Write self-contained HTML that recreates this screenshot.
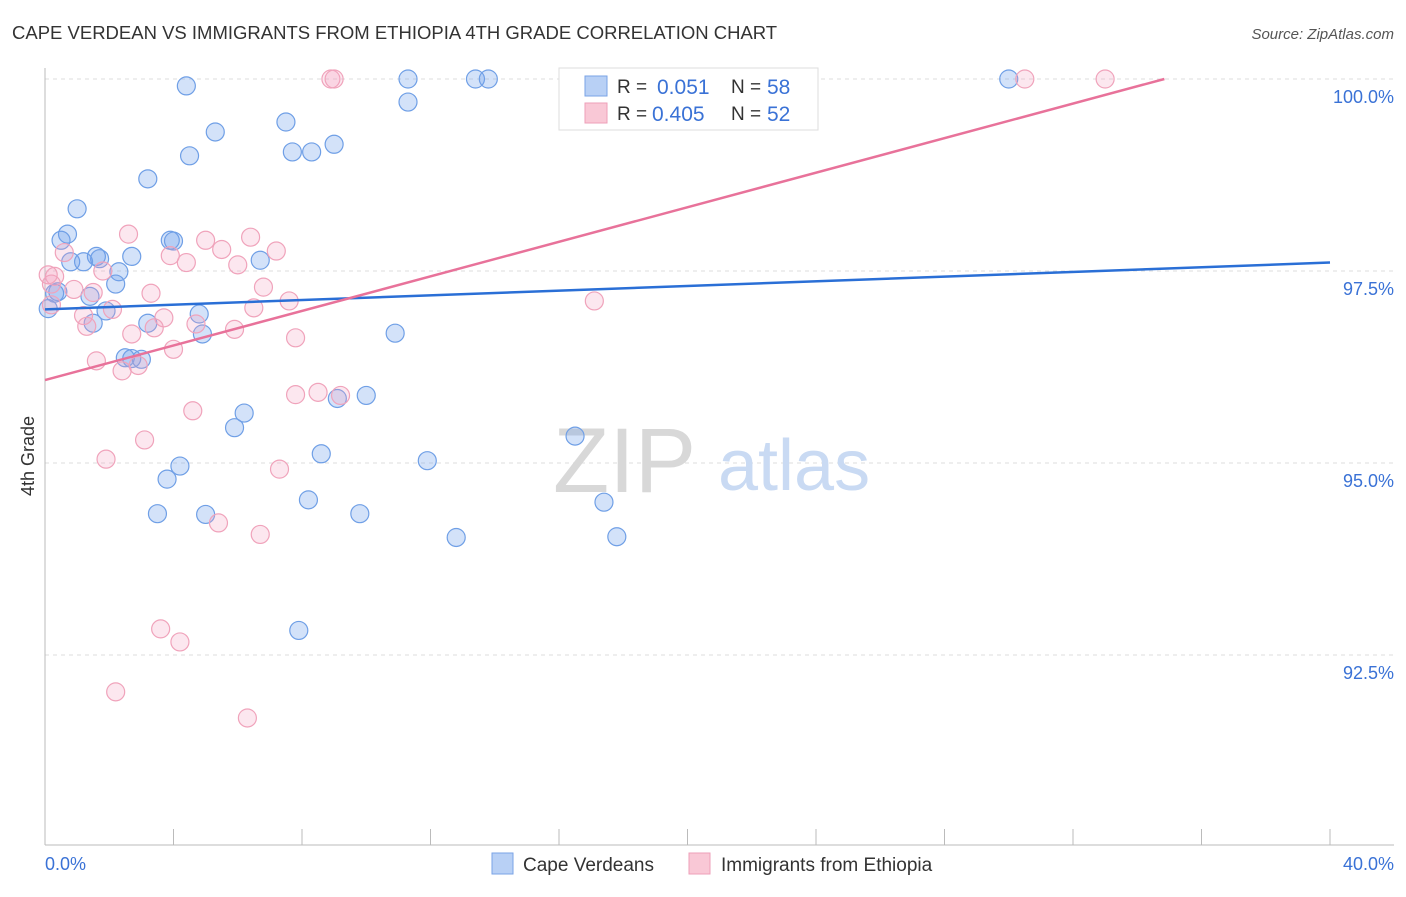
<!DOCTYPE html>
<html><head><meta charset="utf-8"><style>
body{margin:0;background:#fff;font-family:"Liberation Sans",sans-serif}
svg text{font-family:"Liberation Sans",sans-serif}
</style></head><body>
<svg width="1406" height="892" viewBox="0 0 1406 892">
<text x="12" y="39" font-size="18.5" fill="#333">CAPE VERDEAN VS IMMIGRANTS FROM ETHIOPIA 4TH GRADE CORRELATION CHART</text>
<text x="1394" y="39" font-size="15" fill="#555" text-anchor="end" font-style="italic">Source: ZipAtlas.com</text>
<g id="grid"></g>
<g><text x="553" y="492" font-size="92" fill="#d8d8d8" font-family="Liberation Serif,serif">ZIP</text><text x="718" y="490" font-size="72" fill="#c9daf3">atlas</text></g>
<g id="pts"></g>
<g id="lines"></g>
<text x="34" y="456" font-size="18" fill="#333" transform="rotate(-90 34 456)" text-anchor="middle">4th Grade</text>
<text x="45" y="870" font-size="18" fill="#3a72d6">0.0%</text>
<text x="1394" y="870" font-size="18" fill="#3a72d6" text-anchor="end">40.0%</text>
<g>
<rect x="559" y="68" width="259" height="62" fill="#fff" stroke="#ddd"/>
<rect x="585" y="76" width="22" height="20" fill="#b8d0f5" stroke="#7aa3e6"/>
<text x="617" y="93" font-size="19" fill="#333">R =</text>
<text x="657" y="94" font-size="21" fill="#3a72d6">0.051</text>
<text x="731" y="93" font-size="19" fill="#333">N =</text>
<text x="767" y="94" font-size="21" fill="#3a72d6">58</text>
<rect x="585" y="103" width="22" height="20" fill="#f9c8d6" stroke="#ee9fb8"/>
<text x="617" y="120" font-size="19" fill="#333">R =</text>
<text x="652" y="121" font-size="21" fill="#3a72d6">0.405</text>
<text x="731" y="120" font-size="19" fill="#333">N =</text>
<text x="767" y="121" font-size="21" fill="#3a72d6">52</text>
</g>
<g>
<rect x="492" y="853" width="21" height="21" fill="#b8d0f5" stroke="#7aa3e6"/>
<text x="523" y="871" font-size="19" fill="#333">Cape Verdeans</text>
<rect x="689" y="853" width="21" height="21" fill="#f9c8d6" stroke="#ee9fb8"/>
<text x="721" y="871" font-size="19" fill="#333">Immigrants from Ethiopia</text>
</g>
</svg>
<script>
const yTicks=[100,97.5,95,92.5];
const yTickLabels=["100.0%","97.5%","95.0%","92.5%"];
const xTickVals=[0,4,8,12,16,20,24,28,32,36,40];
const blueX=[4.4,11.3,13.4,13.8,22.8,30.0,11.3,5.3,7.5,4.5,7.7,8.3,9.0,3.2,1.0,0.7,0.5,3.9,4.0,1.6,1.7,2.7,0.8,1.2,6.7,2.3,2.2,0.4,1.4,0.1,1.9,4.8,3.2,1.5,4.9,10.9,2.5,2.7,3.0,9.1,10.0,6.2,5.9,16.5,4.2,8.6,11.9,3.8,8.2,17.4,3.5,5.0,9.8,12.8,17.8,7.9,0.3];
const blueY=[99.91,100,100,100,100,100,99.7,99.31,99.44,99.0,99.05,99.05,99.15,98.7,98.31,97.98,97.9,97.9,97.89,97.69,97.66,97.69,97.62,97.62,97.64,97.49,97.33,97.23,97.17,97.01,96.98,96.94,96.82,96.82,96.68,96.69,96.37,96.36,96.35,95.84,95.88,95.65,95.46,95.35,94.96,95.12,95.03,94.79,94.52,94.49,94.34,94.33,94.34,94.03,94.04,92.82,97.21];
const pinkX=[8.9,9.0,23.3,30.5,33.0,2.6,5.0,6.4,0.6,3.9,4.4,5.5,6.0,7.2,1.8,0.3,0.2,0.9,1.5,3.3,6.8,7.6,6.5,2.1,1.2,3.7,4.7,1.3,5.9,3.4,2.7,7.8,4.0,1.6,2.9,2.4,17.1,7.8,8.5,9.2,4.6,3.1,1.9,7.3,5.4,6.7,3.6,4.2,2.2,6.3,0.1,0.2];
const pinkY=[100,100,100,100,100,97.98,97.9,97.94,97.74,97.7,97.61,97.78,97.58,97.76,97.5,97.43,97.33,97.26,97.22,97.21,97.29,97.11,97.02,97.0,96.92,96.89,96.81,96.78,96.74,96.76,96.68,96.63,96.48,96.33,96.27,96.2,97.11,95.89,95.92,95.88,95.68,95.3,95.05,94.92,94.22,94.07,92.84,92.67,92.02,91.68,97.45,97.06];
const blueFit=[97.0,0.01525];   // intercept, slope per x%
const pinkFit=[96.08,0.1125];
const X=v=>45+v/40*1285, Y=v=>79+(100-v)/2.5*192;
const NS="http://www.w3.org/2000/svg";
const mk=(t,a,p)=>{const e=document.createElementNS(NS,t);for(const k in a)e.setAttribute(k,a[k]);p.appendChild(e);return e;};
const g=document.getElementById('grid');
yTicks.forEach((v,i)=>{
 const l=mk('line',{x1:45,x2:1394,y1:Y(v),y2:Y(v),stroke:'#ddd','stroke-dasharray':'4,4'},g);
 
 
 const t=mk('text',{x:1394,y:Y(v)+24,'font-size':18,fill:'#3a72d6','text-anchor':'end'},g);t.textContent=yTickLabels[i];
 
 
});
const ax=mk('line',{x1:45,x2:1394,y1:845,y2:845,stroke:'#bbb'},g);


const ay=mk('line',{x1:45,x2:45,y1:68,y2:845,stroke:'#bbb'},g);


xTickVals.forEach(v=>{const t=mk('line',{x1:X(v),x2:X(v),y1:829,y2:845,stroke:'#bbb'},g);
 
 });
const p=document.getElementById('pts');
blueX.forEach((v,i)=>{const c=mk('circle',{cx:X(v),cy:Y(blueY[i]),r:9,fill:'rgba(110,160,235,0.3)',stroke:'#6f9fe6','stroke-width':1.2},p);
 
 });
pinkX.forEach((v,i)=>{const c=mk('circle',{cx:X(v),cy:Y(pinkY[i]),r:9,fill:'rgba(245,160,190,0.25)',stroke:'#f0a3bb','stroke-width':1.2},p);
 
 });
const L=document.getElementById('lines');
const b=mk('line',{x1:X(0),y1:Y(blueFit[0]),x2:X(40),y2:Y(blueFit[0]+40*blueFit[1]),stroke:'#2a6fd6','stroke-width':2.5},L);


const xe=(100-pinkFit[0])/pinkFit[1];
const pk=mk('line',{x1:X(0),y1:Y(pinkFit[0]),x2:X(xe),y2:Y(100),stroke:'#e8729a','stroke-width':2.5},L);


</script>
</body></html>
